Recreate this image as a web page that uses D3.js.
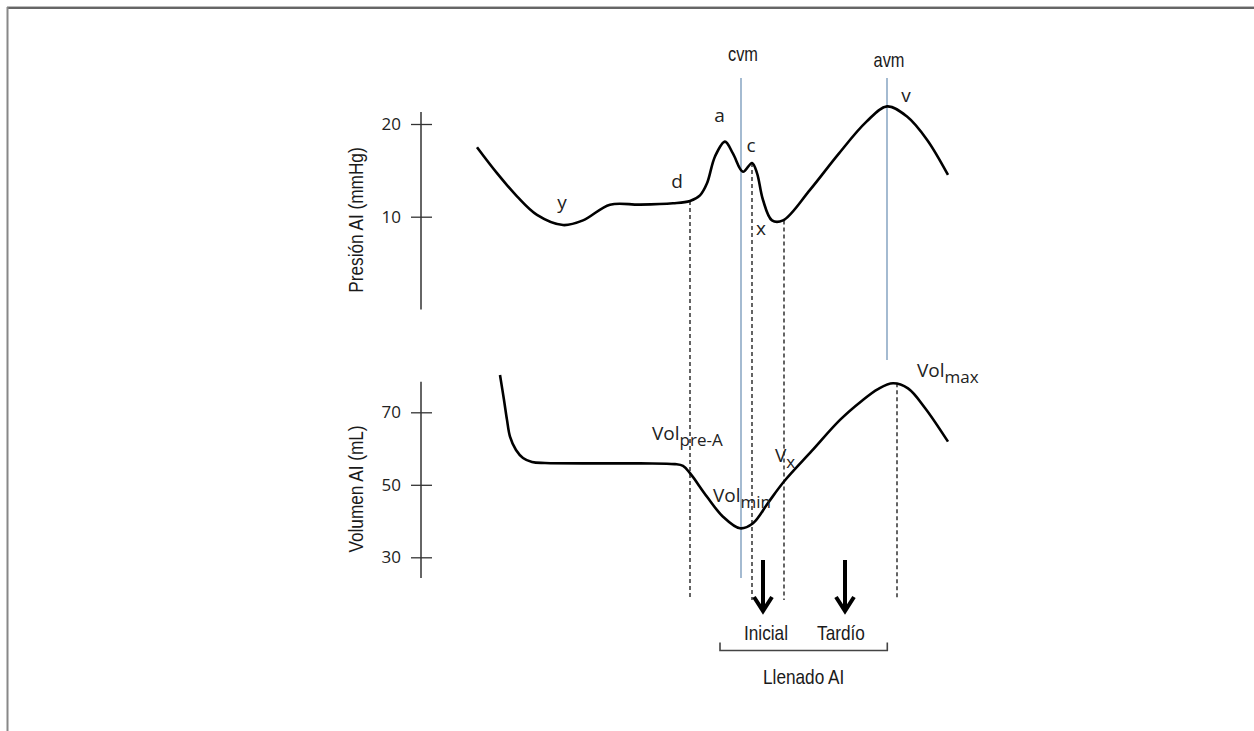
<!DOCTYPE html>
<html>
<head>
<meta charset="utf-8">
<script src="https://cdn.jsdelivr.net/npm/d3@7"></script>
<style>
  body { margin: 0; background: #fff; }
  svg { display: block; }
  .narrow { font-family: "Liberation Sans", Arial, sans-serif; fill: #1a1a1a; }
  .lab { font-family: "Open Sans", "Noto Sans", sans-serif; fill: #222; }
</style>
</head>
<body>
<svg id="chart" width="1254" height="731"></svg>
<script>
// ---- data (time in ms from start of trace) ----
var presTime = [7, 27, 47, 67, 93, 113, 140, 170, 203, 220, 230, 237, 245, 255, 263, 273, 282, 287, 293, 302, 313, 340, 368, 396, 417, 437, 457, 478];
var presVal  = [17.5, 14.7, 12.2, 10.2, 9.1, 9.6, 11.3, 11.3, 11.45, 11.7, 12.3, 13.6, 16.5, 18.1, 16.8, 14.85, 15.8, 14.7, 11.8, 9.6, 9.6, 12.9, 16.7, 20.2, 21.9, 20.8, 18.3, 14.5];

var volTime = [30, 34, 37, 40, 46, 53, 62, 75, 170, 205, 213, 220, 237, 253, 270, 283, 298, 314, 342, 370, 392, 408, 423, 438, 455, 478];
var volVal  = [80.3, 73.4, 67.9, 63.3, 59.6, 57.4, 56.3, 56.0, 55.9, 55.7, 55.2, 53.2, 46.7, 41.2, 38.0, 39.4, 45.0, 50.9, 59.4, 67.9, 73.2, 76.4, 78.0, 76.6, 71.2, 61.9];

var presTicks = [10, 20];
var volTicks = [30, 50, 70];

// valve events (solid blue lines)
var valveNames = ["cvm", "avm"];
var valveTime = [271, 417];

// dashed reference lines: time and the value they start from
var dashTime = [220, 282, 314, 427];
var dashFrom = ["p", "p", "p", "v"];
var dashVal  = [11.7, 15.8, 9.6, 78.0];

// wave letters on the pressure curve
var waveNames = ["y", "d", "a", "c", "x", "v"];
var waveTime  = [92, 207, 249.5, 281, 291, 436];
var waveVal   = [10.8, 13.1, 20.25, 17.0, 8.0, 22.4];

// volume labels (main + subscript)
var volLabMain = ["Vol", "Vol", "V", "Vol"];
var volLabSub  = ["pre-A", "min", "x", "max"];
var volLabTime = [182, 243, 305, 447];
var volLabVal  = [62.4, 45.3, 56.4, 79.8];

// filling phases
var phaseNames = ["Inicial", "Tardío"];
var phaseTime  = [293, 375];

var svg = d3.select("#chart");

// frame
svg.append("line").attr("x1", 7).attr("x2", 1254).attr("y1", 6.5).attr("y2", 6.5).attr("stroke", "#bbb").attr("stroke-width", 1);
svg.append("line").attr("x1", 7).attr("x2", 1254).attr("y1", 8).attr("y2", 8).attr("stroke", "#333").attr("stroke-width", 1.5);
svg.append("line").attr("x1", 7.5).attr("x2", 7.5).attr("y1", 7).attr("y2", 731).attr("stroke", "#888").attr("stroke-width", 2);

var x = d3.scaleLinear().domain([0, 500]).range([470, 970]);
var yP = d3.scaleLinear().domain([10, 20]).range([216.7, 124]);
var yV = d3.scaleLinear().domain([30, 70]).range([557.3, 412.3]);
var axisX = 421;

// condensed text (Arial Narrow look) by squeezing Liberation Sans
function narrow(px, py, size, txt, rot) {
  return svg.append("text").attr("class", "narrow")
    .attr("transform", "translate(" + px + "," + py + ")" + (rot ? " rotate(-90)" : "") + " scale(0.82,1)")
    .attr("text-anchor", "middle").attr("font-size", size).text(txt);
}

function drawAxis(scale, ticks, lo, hi, title, titleY) {
  var g = svg.append("g").attr("transform", "translate(" + axisX + ",0)");
  g.append("line").attr("y1", scale(hi)).attr("y2", scale(lo))
    .attr("stroke", "#333").attr("stroke-width", 1.5);
  var ax = g.append("g").call(d3.axisLeft(scale).tickValues(ticks).tickSize(10).tickPadding(10));
  ax.select(".domain").remove();
  ax.selectAll(".tick line").attr("x1", 11).attr("x2", -10).attr("stroke", "#333").attr("stroke-width", 1.3);
  ax.selectAll(".tick text").attr("font-family", "Open Sans, sans-serif").attr("font-size", 17).attr("fill", "#222");
  narrow(363, titleY, 21, title, true);
}
drawAxis(yP, presTicks, 0, 21.3, "Presión AI (mmHg)", 220);
drawAxis(yV, volTicks, 24.3, 78.4, "Volumen AI (mL)", 489);

var bottomY = 600;

// valve lines
valveTime.forEach(function (t, i) {
  var y2 = i === 0 ? 578 : 360;
  svg.append("line").attr("x1", x(t)).attr("x2", x(t)).attr("y1", 78).attr("y2", y2)
    .attr("stroke", "#7396b9").attr("stroke-width", 1.3);
  narrow(x(t) + 2, i === 0 ? 61 : 67, 20, valveNames[i]);
});

// dashed lines
dashTime.forEach(function (t, i) {
  var top = dashFrom[i] === "p" ? yP(dashVal[i]) : yV(dashVal[i]);
  svg.append("line").attr("x1", x(t)).attr("x2", x(t)).attr("y1", top).attr("y2", bottomY)
    .attr("stroke", "#111").attr("stroke-width", 1.3).attr("stroke-dasharray", "4,3");
});

// curves
var presLine = d3.line().x(function (d) { return x(d[0]); }).y(function (d) { return yP(d[1]); }).curve(d3.curveCatmullRom.alpha(0.5));
var volLine = d3.line().x(function (d) { return x(d[0]); }).y(function (d) { return yV(d[1]); }).curve(d3.curveCatmullRom.alpha(0.5));

svg.append("path").datum(d3.zip(presTime, presVal)).attr("d", presLine)
  .attr("fill", "none").attr("stroke", "#000").attr("stroke-width", 2.6).attr("stroke-linejoin", "round");
svg.append("path").datum(d3.zip(volTime, volVal)).attr("d", volLine)
  .attr("fill", "none").attr("stroke", "#000").attr("stroke-width", 2.6).attr("stroke-linejoin", "round");

// wave letters
waveNames.forEach(function (n, i) {
  svg.append("text").attr("class", "lab").attr("x", x(waveTime[i])).attr("y", yP(waveVal[i]))
    .attr("text-anchor", "middle").attr("font-size", 19).text(n);
});

// volume labels
volLabMain.forEach(function (n, i) {
  var t = svg.append("text").attr("class", "lab").attr("x", x(volLabTime[i])).attr("y", yV(volLabVal[i]))
    .attr("font-size", 19);
  t.append("tspan").text(n);
  t.append("tspan").attr("dy", 6).attr("font-size", 17).text(volLabSub[i]);
});

// arrows
phaseTime.forEach(function (t, i) {
  var ax = x(t), y0 = 560, y1 = 611;
  svg.append("line").attr("x1", ax).attr("x2", ax).attr("y1", y0).attr("y2", y1 - 3)
    .attr("stroke", "#000").attr("stroke-width", 4);
  svg.append("path").attr("d", "M" + (ax - 9) + "," + (y1 - 14) + "L" + ax + "," + y1 + "L" + (ax + 9) + "," + (y1 - 14))
    .attr("fill", "none").attr("stroke", "#000").attr("stroke-width", 4).attr("stroke-linejoin", "miter");
  narrow(x(t) + (i === 0 ? 3 : -4), 640, 21, phaseNames[i]);
});

// bracket
var bx0 = x(250), bx1 = x(417.3);
svg.append("path").attr("d", "M" + bx0 + ",642.5V650.5H" + bx1 + "V642.5")
  .attr("fill", "none").attr("stroke", "#444").attr("stroke-width", 1.6);
narrow((bx0 + bx1) / 2, 684, 21, "Llenado AI");
</script>
</body>
</html>
